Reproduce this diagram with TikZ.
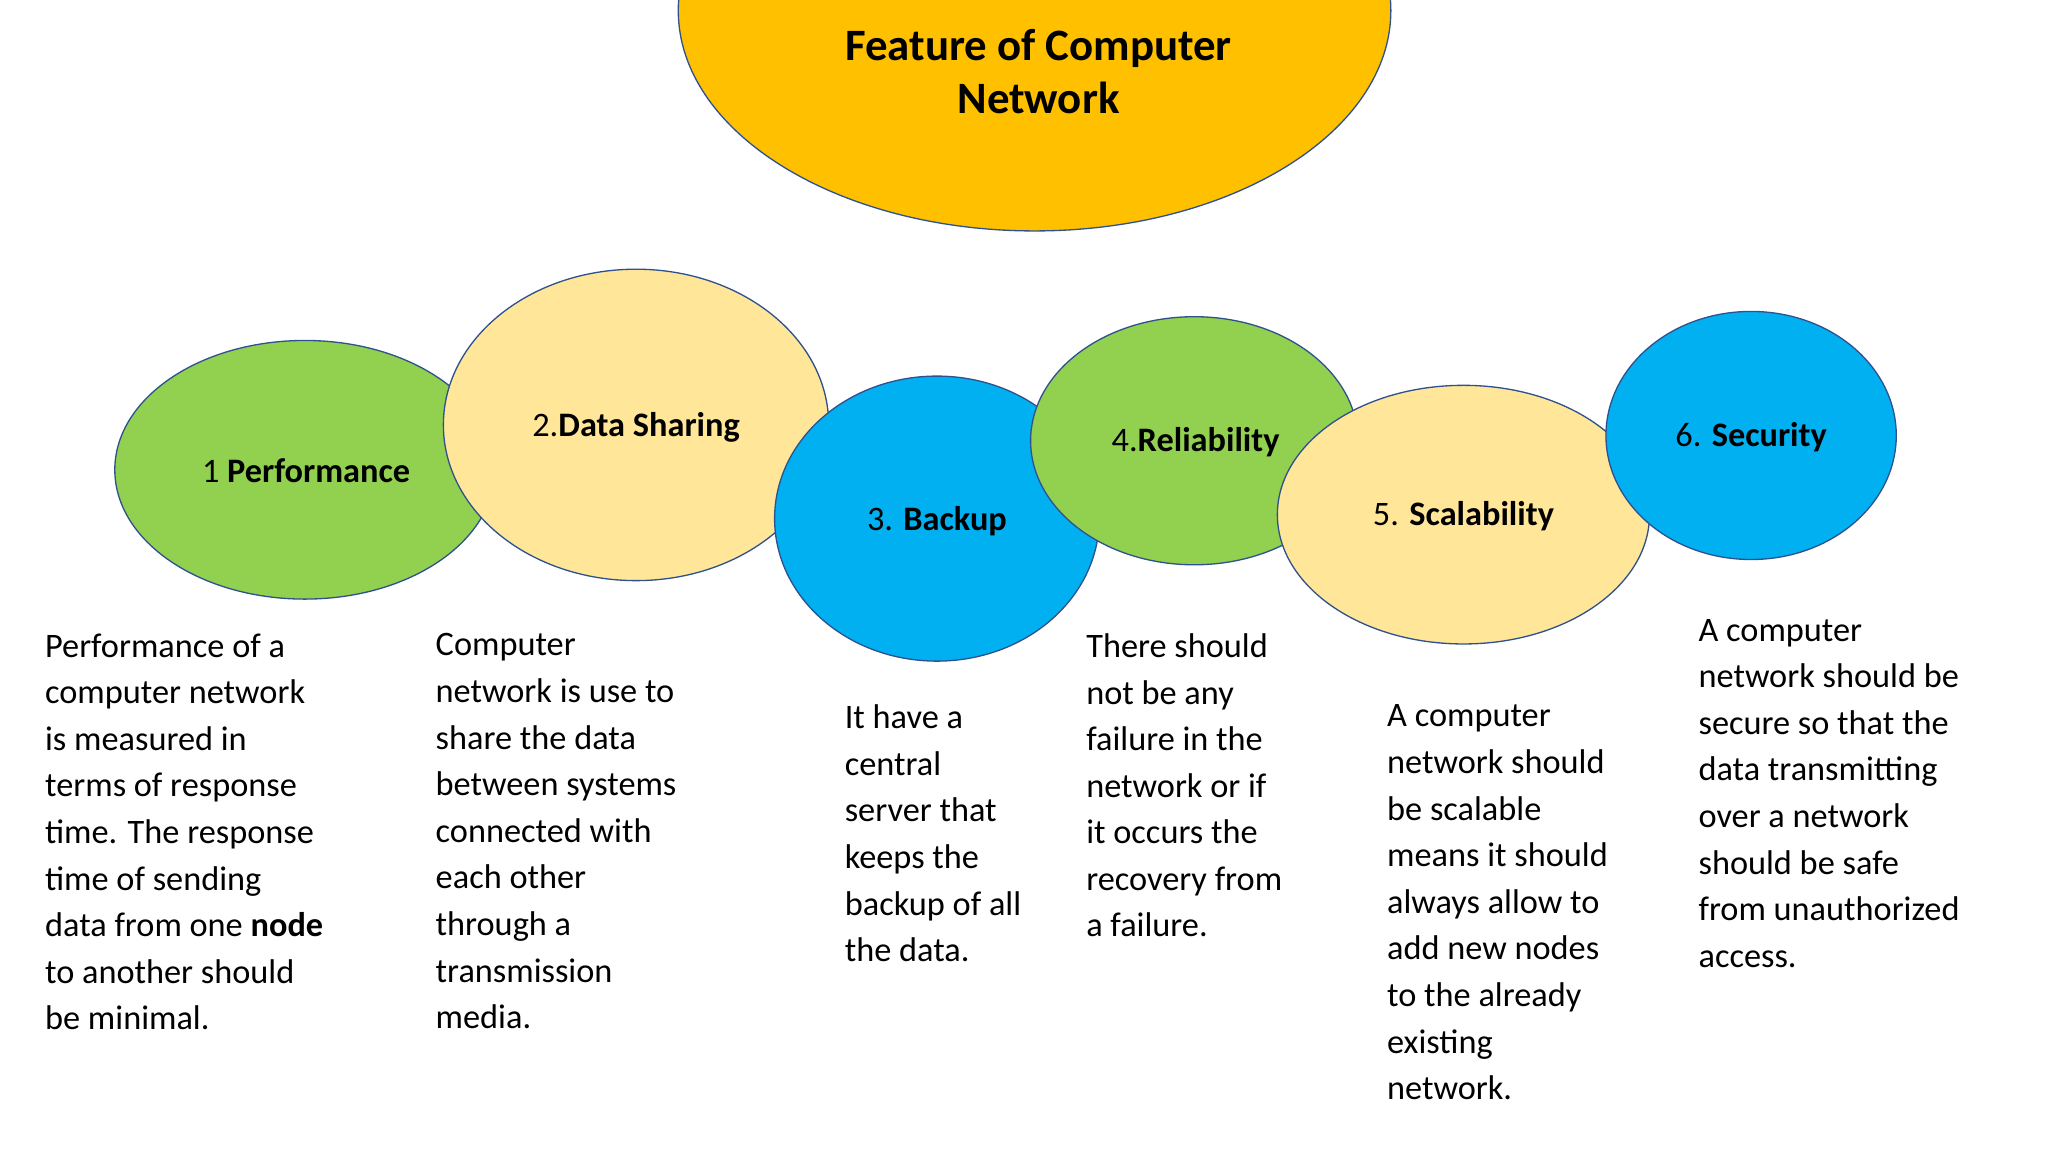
\documentclass[tikz,border=0pt]{standalone}
\usepackage{fontspec}
\setmainfont{Carlito}
\begin{document}
\begin{tikzpicture}[x=1pt,y=-1pt,
  bub/.style={draw=black!40!blue!60!gray,line width=1pt},
  lbl/.style={font=\fontsize{26}{30}\selectfont},
  body/.style={anchor=north west,inner sep=0pt,align=left,font=\fontsize{26}{35.3}\selectfont}]
\useasboundingbox (0,0) rectangle (1552,873);
\definecolor{gr}{HTML}{92D050}
\definecolor{ly}{HTML}{FFE699}
\definecolor{bl}{HTML}{00B0F0}
\definecolor{or}{HTML}{FFC000}
\definecolor{bd}{HTML}{2F528F}
\tikzset{bub/.style={draw=bd,line width=1pt}}
\begin{scope}
\clip (0,0) rectangle (1552,873);
\fill[or,bub] (784,8) ellipse [x radius=270,y radius=167];
\end{scope}
\node[font=\fontsize{34}{40}\bfseries\selectfont,align=center] (title) at (787,54) {Feature of Computer\\Network};
\fill[gr,bub] (231,356) ellipse [x radius=144,y radius=98];
\fill[ly,bub] (482,322) ellipse [x radius=146,y radius=118];
\fill[bl,bub] (710,393) ellipse [x radius=123,y radius=108];
\fill[gr,bub] (905,334) ellipse [x radius=124,y radius=94];
\fill[ly,bub] (1109,390) ellipse [x radius=141,y radius=98];
\fill[bl,bub] (1327,330) ellipse [x radius=110,y radius=94];
\node[lbl] (l1) at (232,357) {1 \textbf{Performance}};
\node[lbl] (l2) at (482,324) {2.\textbf{Data Sharing}};
\node[lbl] (l3) at (710,395) {3. \textbf{Backup}};
\node[lbl] (l4) at (906,335) {4.\textbf{Reliability}};
\node[lbl] (l5) at (1109,391) {5. \textbf{Scalability}};
\node[lbl] (l6) at (1327,331) {6. \textbf{Security}};
\node[body] (t1) at (34,480) {Performance of a\\computer network\\is measured in\\terms of response\\time. The response\\time of sending\\data from one \textbf{node}\\to another should\\be minimal.};
\node[body] (t2) at (330,480) {Computer\\network is use to\\share the data\\between systems\\connected with\\each other\\through a\\transmission\\media.};
\node[body] (t3) at (640,534) {It have a\\central\\server that\\keeps the\\backup of all\\the data.};
\node[body] (t4) at (823,480) {There should\\not be any\\failure in the\\network or if\\it occurs the\\recovery from\\a failure.};
\node[body] (t5) at (1051,534) {A computer\\network should\\be scalable\\means it should\\always allow to\\add new nodes\\to the already\\existing\\network.};
\node[body] (t6) at (1287,469) {A computer\\network should be\\secure so that the\\data transmitting\\over a network\\should be safe\\from unauthorized\\access.};
\end{tikzpicture}
\end{document}
